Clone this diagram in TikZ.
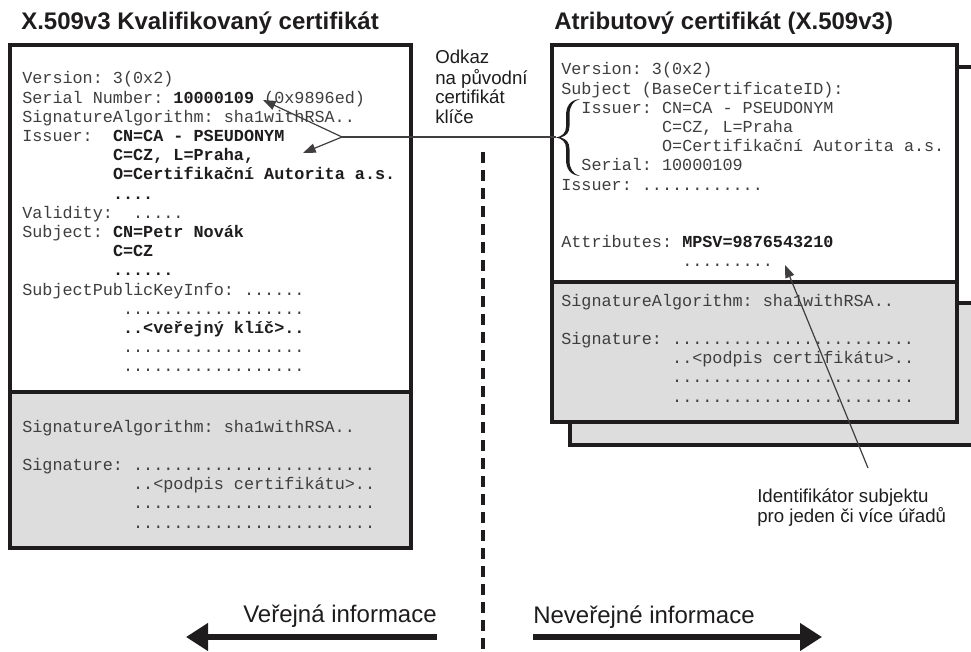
\documentclass[tikz,border=0pt]{standalone}
\usepackage{fontspec}
\setmainfont{Liberation Sans}
\newfontfamily\monof{Liberation Mono}
\usetikzlibrary{arrows.meta}
\definecolor{boxgray}{RGB}{221,221,221}
\definecolor{ink}{RGB}{30,28,28}
\definecolor{txt}{RGB}{62,62,62}
\newcommand\mblock[1]{{\monof\fontsize{12.6pt}{14.4pt}\selectfont\frenchspacing\begin{tabular}[t]{@{}l@{}}#1\end{tabular}}}
\newcommand\sblock[1]{\begin{tabular}[t]{@{}l@{}}#1\end{tabular}}
\newcommand\bk[1]{\textcolor{ink}{\textbf{#1}}}
\tikzset{
  cardline/.style={draw=ink, line width=2.3pt},
  monotext/.style={anchor=base west, inner sep=0pt, text=txt},
  title/.style={anchor=base west, inner sep=0pt, font=\bfseries\fontsize{18pt}{20pt}\selectfont, text=ink},
  note/.style={anchor=base west, inner sep=0pt, font=\fontsize{14pt}{14.5pt}\selectfont, text=ink},
  bignote/.style={inner sep=0pt, font=\fontsize{18pt}{20pt}\selectfont, text=ink},
  pointer/.style={draw=ink!85, line width=0.9pt},
  ptip/.style={pointer, -{Triangle[length=9.5pt,width=7pt]}},
  bigarrow/.style={draw=ink, line width=3.9pt, -{Triangle[length=16.5pt,width=20pt]}},
  divide/.style={draw=ink, line width=2.3pt, dash pattern=on 8.5pt off 5pt}
}
\begin{document}
\begin{tikzpicture}[x=0.75pt,y=-0.75pt]
\useasboundingbox (0,0) rectangle (971,652);
\clip (0,0) rectangle (971,652);
% titles
\node[title] (t1) at (21,30) {X.509v3 Kvalifikovaný certifikát};
\node[title] (t2) at (554,30) {Atributový certifikát (X.509v3)};
% back card (right)
\fill[white] (570,67) rectangle (995,303);
\fill[boxgray] (570,303) rectangle (995,445);
\draw[cardline] (570,303) -- (995,303);
\draw[cardline] (570,67) rectangle (995,445);
% front card (right)
\fill[white] (552,45) rectangle (957,282);
\fill[boxgray] (552,282) rectangle (957,422);
\draw[cardline] (552,282) -- (957,282);
\draw[cardline] (552,45) rectangle (957,422);
% left card
\fill[white] (10,45) rectangle (411,392);
\fill[boxgray] (10,392) rectangle (411,548);
\draw[cardline] (10,392) -- (411,392);
\draw[cardline] (10,45) rectangle (411,548);
% left card texts
\node[monotext] (lt) at (22,84) {\mblock{%
Version:~3(0x2)\\
Serial~Number:~\bk{10000109}~(0x9896ed)\\
SignatureAlgorithm:~sha1withRSA..\\
Issuer:~~\bk{CN=CA~-~PSEUDONYM}\\
~~~~~~~~~\bk{C=CZ,~L=Praha,}\\
~~~~~~~~~\bk{O=Certifikační~Autorita~a.s.}\\
~~~~~~~~~\bk{....}\\
Validity:~~.....\\
Subject:~\bk{CN=Petr~Novák}\\
~~~~~~~~~\bk{C=CZ}\\
~~~~~~~~~\bk{......}\\
SubjectPublicKeyInfo:~......\\
~~~~~~~~~~..................\\
~~~~~~~~~~\bk{..<veřejný~klíč>..}\\
~~~~~~~~~~..................\\
~~~~~~~~~~..................}};
\node[monotext] (lb) at (22,432) {\mblock{%
SignatureAlgorithm:~sha1withRSA..\\
\\
Signature:~........................\\
~~~~~~~~~~~..<podpis~certifikátu>..\\
~~~~~~~~~~~........................\\
~~~~~~~~~~~........................}};
% right card texts
\node[monotext] (rt) at (561,75) {\mblock{%
Version:~3(0x2)\\
Subject~(BaseCertificateID):\\
~~Issuer:~CN=CA~-~PSEUDONYM\\
~~~~~~~~~~C=CZ,~L=Praha\\
~~~~~~~~~~O=Certifikační~Autorita~a.s.\\
~~Serial:~10000109\\
Issuer:~............\\
\\
\\
Attributes:~\bk{MPSV=9876543210}\\
~~~~~~~~~~~~.........}};
\node[monotext] (rb) at (561,306) {\mblock{%
SignatureAlgorithm:~sha1withRSA..\\
\\
Signature:~........................\\
~~~~~~~~~~~..<podpis~certifikátu>..\\
~~~~~~~~~~~........................\\
~~~~~~~~~~~........................}};
% brace
\fill[ink] (580,99) .. controls (570,100) and (566,106) .. (566,116) -- (566,127)
  .. controls (566,133) and (562,136.5) .. (556,137.5)
  .. controls (562,138.5) and (566,142) .. (566,148) -- (566,159)
  .. controls (566,169) and (570,175) .. (580,176)
  .. controls (573,174) and (569.5,169) .. (569.5,160) -- (569.5,149)
  .. controls (569.5,142) and (566,139) .. (560.5,137.5)
  .. controls (566,136) and (569.5,133) .. (569.5,126) -- (569.5,115)
  .. controls (569.5,106) and (573,101) .. (580,99) -- cycle;
% middle label
\node[note] (odkaz) at (435,63.3) {\sblock{Odkaz\\na původní\\certifikát\\klíče}};
% link from brace to the base certificate
\coordinate (bracetip) at (556,137);
\coordinate (junc) at (342,137);
\coordinate (serialtip) at (263,100);
\coordinate (issuertip) at (303,153);
\draw[pointer] (bracetip) -- (junc);
\draw[ptip] (junc) -- (serialtip);
\draw[ptip] (junc) -- (issuertip);
% identifier label and pointer
\node[note] (ident) at (757,502) {\sblock{Identifikátor subjektu\\pro jeden či více úřadů}};
\coordinate (identfoot) at (868,468);
\coordinate (attrtip) at (785,265);
\draw[ptip] (identfoot) -- (attrtip);
% public / non-public divider
\coordinate (divtop) at (483,152);
\coordinate (divbot) at (483,655);
\draw[divide] (divtop) -- (divbot);
% bottom arrows
\node[bignote, anchor=base east] (pub) at (437,622) {Veřejná informace};
\node[bignote, anchor=base west] (npub) at (533,623) {Neveřejné informace};
\coordinate (pa) at (437,637);
\coordinate (pb) at (186,637);
\coordinate (na) at (533,637);
\coordinate (nb) at (822,637);
\draw[bigarrow] (pa) -- (pb);
\draw[bigarrow] (na) -- (nb);
\end{tikzpicture}
\end{document}
